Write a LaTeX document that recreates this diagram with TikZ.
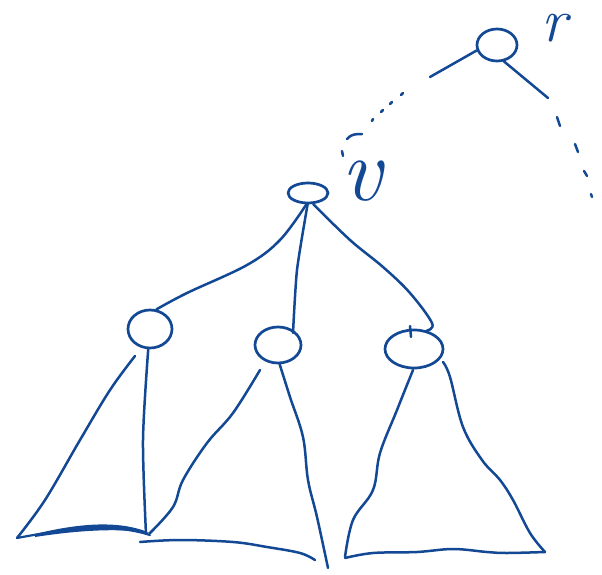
\documentclass[tikz,border=0pt]{standalone}
\usetikzlibrary{shapes.geometric}
\definecolor{ink}{RGB}{18,72,148}
\begin{document}
\begin{tikzpicture}[x=1pt,y=-1pt,line cap=round,line join=round,
  pen/.style={draw=ink,line width=2.5pt},
  knot/.style={ellipse,draw=ink,line width=2.7pt,inner sep=0pt},
  lbl/.style={text=ink,inner sep=0pt}]
\useasboundingbox (0,0) rectangle (602,575);
% nodes
\node[knot,minimum width=40pt,minimum height=32pt] (r) at (497,45) {};
\node[knot,minimum width=40pt,minimum height=20pt] (v) at (308,193) {};
\node[knot,minimum width=44pt,minimum height=38pt] (a) at (150,329) {};
\node[knot,minimum width=46pt,minimum height=36pt] (b) at (278,345) {};
\node[knot,minimum width=58pt,minimum height=38pt] (c) at (414,349) {};
\node[lbl,font=\fontsize{62}{62}\selectfont\itshape] (rl) at (554,28) {r};
\node[lbl,font=\fontsize{90}{90}\selectfont\itshape] (vl) at (362,181) {v};
% edges from v
\draw[pen] plot[smooth,tension=0.6] coordinates {(v.262) (280,240) (247,265) (187,293) (a.72)};
\draw[pen] plot[smooth,tension=0.4] coordinates {(v.268) (297,270) (293,333)};
\draw[pen] plot[smooth,tension=0.6] coordinates {(v.295) (350,240) (383,267) (410,293) (432,323) (c.55)};
\draw[pen] (410,326) -- (411,337);
% r and its paths
\coordinate (pa) at (430,77);
\coordinate (pb) at (548,98);
\draw[pen] (r.195) -- (pa);
\draw[pen] (r.293) -- (pb);
\draw[pen] (403,93) -- (401,95);
\draw[pen] (392,102) -- (390,104);
\draw[pen] (383,110) -- (381,112);
\draw[pen] (373,119) -- (372,121);
\draw[pen] (347,139) .. controls (351,134) and (356,134) .. (362,134);
\draw[pen] (342,151) -- (343,156);
\draw[pen] (557,117) -- (560,126);
\draw[pen] (575,144) -- (578,152);
\draw[pen] (584,171) -- (587,176);
\draw[pen] (591,194) -- (592,197);
% left subtree
\draw[pen] plot[smooth,tension=0.6] coordinates {(135,356) (110,390) (80,440) (45,500) (17,538)};
\draw[pen] plot[smooth,tension=0.5] coordinates {(a.265) (143,440) (146,534)};
\draw[ink,line width=2.2pt] (17,538) .. controls (60,530) and (110,522) .. (150,535);
\fill[ink] (35,534) .. controls (80,523) and (120,520) .. (150,533) .. controls (120,528) and (80,530) .. (35,537) -- cycle;
% middle subtree
\draw[pen] plot[smooth,tension=0.6] coordinates {(260,370) (233,413) (207,443) (183,480) (173,507) (150,533)};
\draw[pen] plot[smooth,tension=0.6] coordinates {(140,542) (180,540) (233,542) (267,547) (300,553) (315,560)};
\draw[pen] plot[smooth,tension=0.6] coordinates {(b.275) (290,397) (303,437) (308,480) (317,517) (328,568)};
% right subtree
\draw[pen] plot[smooth,tension=0.6] coordinates {(413,370) (397,410) (380,453) (373,490) (353,520) (345,557)};
\draw[pen] plot[smooth,tension=0.6] coordinates {(443,362) (450,377) (463,427) (482,460) (500,480) (513,500) (530,533) (545,552)};
\draw[pen] plot[smooth,tension=0.6] coordinates {(345,558) (373,553) (417,552) (453,549) (487,552) (507,553) (545,552)};
\end{tikzpicture}
\end{document}
